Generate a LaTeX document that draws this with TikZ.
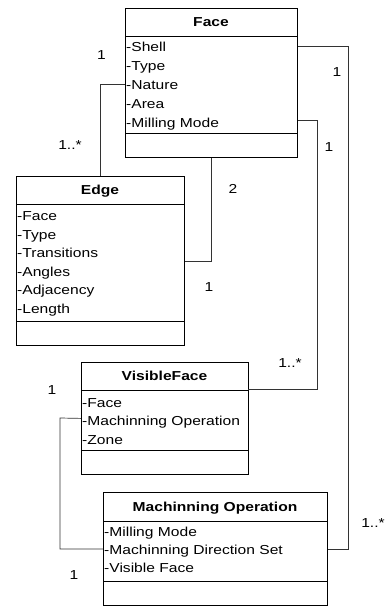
\documentclass[tikz,border=0pt]{standalone}
\usepackage{fontspec}
\setmainfont{Liberation Sans}[FakeStretch=1.2]
\begin{document}
\begin{tikzpicture}[x=1pt,y=-1pt,
  txt/.style={inner sep=0pt, text height=9.3pt, text depth=0pt, font=\fontsize{13}{15}\selectfont},
  box/.style={draw, line width=0.8pt, anchor=north west, inner sep=0pt},
  sep/.style={line width=0.8pt},
  ttl/.style={txt, font=\fontsize{13}{15}\selectfont\bfseries},
  attr/.style={txt, anchor=west},
  mult/.style={txt},
  link/.style={line width=0.7pt, draw=black!80}]
\useasboundingbox (0,0) rectangle (388,606);

% ---- Face ----
\node[box, minimum width=172pt, minimum height=149pt] (face) at (125,8) {};
\node[ttl] (face-t) at (211,22) {Face};
\draw[sep] (125,36) -- (297,36) (125,133) -- (297,133);
\foreach \t [count=\i from 0] in {Shell,Type,Nature,Area,Milling Mode}
  \node[attr] (face-a\i) at (126,46.5+19*\i) {-\t};

% ---- Edge ----
\node[box, minimum width=168pt, minimum height=169pt] (edge) at (16,176) {};
\node[ttl] (edge-t) at (100,190) {Edge};
\draw[sep] (16,204) -- (184,204) (16,321) -- (184,321);
\foreach \t [count=\i from 0] in {Face,Type,Transitions,Angles,Adjacency,Length}
  \node[attr] (edge-a\i) at (17,216+18.5*\i) {-\t};

% ---- VisibleFace ----
\node[box, minimum width=167pt, minimum height=112pt] (vf) at (81,362) {};
\node[ttl] (vf-t) at (164.5,376) {VisibleFace};
\draw[sep] (81,390) -- (248,390) (81,450) -- (248,450);
\foreach \t [count=\i from 0] in {Face,Machinning Operation,Zone}
  \node[attr] (vf-a\i) at (82,402.5+18.5*\i) {-\t};

% ---- Machinning Operation ----
\node[box, minimum width=224pt, minimum height=113pt] (mo) at (103,492) {};
\node[ttl] (mo-t) at (215,507) {Machinning Operation};
\draw[sep] (103,521) -- (327,521) (103,581) -- (327,581);
\foreach \t [count=\i from 0] in {Milling Mode,Machinning Direction Set,Visible Face}
  \node[attr] (mo-a\i) at (104,532+18*\i) {-\t};

% ---- associations ----
\coordinate (c-vf) at (248,389.5);
\draw[link] (face.west |- face-a2) -| (edge.north);
\draw[link] (face.south) |- (edge.east);
\draw[link] (face.east |- face-a0) -- ++(51,0) |- (mo.east);
\draw[link] (face.east |- 0,120) -- (317,120) |- (c-vf);
\draw[link] (vf.west) -- (60,418) |- (mo.west);

% ---- multiplicities ----
\node[mult] (m1) at (101.5,55) {1};
\node[mult] (m2) at (70,144.5) {1..*};
\node[mult] (m3) at (233,189) {2};
\node[mult] (m4) at (209,287) {1};
\node[mult] (m5) at (337,72) {1};
\node[mult] (m6) at (329,147) {1};
\node[mult] (m7) at (290,363) {1..*};
\node[mult] (m8) at (52,390) {1};
\node[mult] (m9) at (373,523) {1..*};
\node[mult] (m10) at (74,575) {1};
\end{tikzpicture}
\end{document}
